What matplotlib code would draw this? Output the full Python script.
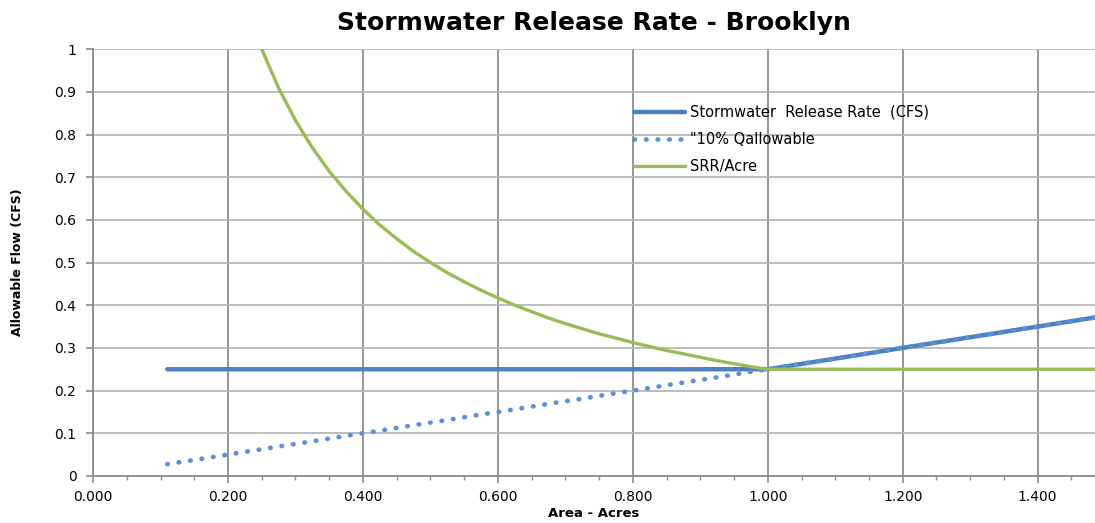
import matplotlib
matplotlib.use("Agg")
import matplotlib.pyplot as plt
from matplotlib.ticker import MultipleLocator, FuncFormatter

plt.rcParams.update({'font.size': 10, 'font.family': ['DejaVu Sans']})

# values
area = [0.11, 0.15, 0.20, 0.25, 0.275, 0.30, 0.325, 0.35, 0.375, 0.40,
        0.425, 0.45, 0.475, 0.50, 0.525, 0.55, 0.575, 0.60, 0.625, 0.65,
        0.675, 0.70, 0.725, 0.75, 0.775, 0.80, 0.825, 0.85, 0.875, 0.90,
        0.925, 0.95, 0.975, 1.00, 1.10, 1.20, 1.30, 1.40, 1.49]
release_rate = [0.25, 0.25, 0.25, 0.25, 0.25, 0.25, 0.25, 0.25, 0.25, 0.25,
                0.25, 0.25, 0.25, 0.25, 0.25, 0.25, 0.25, 0.25, 0.25, 0.25,
                0.25, 0.25, 0.25, 0.25, 0.25, 0.25, 0.25, 0.25, 0.25, 0.25,
                0.25, 0.25, 0.25, 0.25, 0.275, 0.30, 0.325, 0.35, 0.3725]
q_allowable = [0.0275, 0.0375, 0.05, 0.0625, 0.069, 0.075, 0.081, 0.0875, 0.094, 0.10,
               0.106, 0.1125, 0.119, 0.125, 0.131, 0.1375, 0.144, 0.15, 0.156, 0.1625,
               0.169, 0.175, 0.181, 0.1875, 0.194, 0.20, 0.206, 0.2125, 0.219, 0.225,
               0.231, 0.2375, 0.244, 0.25, 0.275, 0.30, 0.325, 0.35, 0.3725]
srr_per_acre = [2.27, 1.667, 1.25, 1.00, 0.909, 0.833, 0.769, 0.714, 0.667, 0.625,
                0.588, 0.556, 0.526, 0.50, 0.476, 0.455, 0.435, 0.417, 0.40, 0.385,
                0.370, 0.357, 0.345, 0.333, 0.323, 0.3125, 0.303, 0.294, 0.286, 0.278,
                0.270, 0.263, 0.256, 0.25, 0.25, 0.25, 0.25, 0.25, 0.25]

fig = plt.figure(figsize=(10.95, 5.23), dpi=100)
ax = fig.add_axes([0.085, 0.090, 0.915, 0.816])

ax.plot(area, release_rate, color='#4f81bd', lw=3.2, solid_capstyle='round',
        label='Stormwater  Release Rate  (CFS)', zorder=3)
ax.plot(area, q_allowable, color='#5b8fd6', lw=3.4, linestyle=(0, (0.1, 2.35)),
        dash_capstyle='round', label='"10% Qallowable', zorder=4)
ax.plot(area, srr_per_acre, color='#9bbb59', lw=2.4, label='SRR/Acre', zorder=5)

ax.set_xlim(0, 1.485)
ax.set_ylim(0, 1)
ax.xaxis.set_major_locator(MultipleLocator(0.2))
ax.xaxis.set_minor_locator(MultipleLocator(0.05))
ax.yaxis.set_major_locator(MultipleLocator(0.1))
ax.xaxis.set_major_formatter(FuncFormatter(lambda v, p: '%.3f' % v))
ax.yaxis.set_major_formatter(FuncFormatter(lambda v, p: '%g' % round(v, 1)))

ax.grid(axis='y', color='#b8b8b8', lw=1.3)
ax.grid(axis='x', color='#8c8c8c', lw=1.3)
ax.set_axisbelow(True)

for s in ['top', 'right']:
    ax.spines[s].set_visible(False)
for s in ['left', 'bottom']:
    ax.spines[s].set_color('#8c8c8c')
    ax.spines[s].set_linewidth(1.3)

ax.tick_params(axis='both', which='major', length=5, color='#8c8c8c', labelsize=10, width=1.2)
ax.tick_params(axis='x', which='minor', length=3, color='#8c8c8c', width=1.0)
ax.tick_params(axis='x', pad=5)
ax.tick_params(axis='y', pad=7)

ax.set_title('Stormwater Release Rate - Brooklyn', fontsize=18, fontweight='bold', pad=14)
ax.set_xlabel('Area - Acres', fontsize=9.5, fontweight='bold', labelpad=2)
ax.set_ylabel('Allowable Flow (CFS)', fontsize=9, fontweight='bold', labelpad=22)

ax.legend(loc='upper left', bbox_to_anchor=(0.527, 0.90), frameon=False,
          handlelength=3.5, handletextpad=0.3, labelspacing=0.82, fontsize=10.5)

fig.savefig('out.png', dpi=100)
